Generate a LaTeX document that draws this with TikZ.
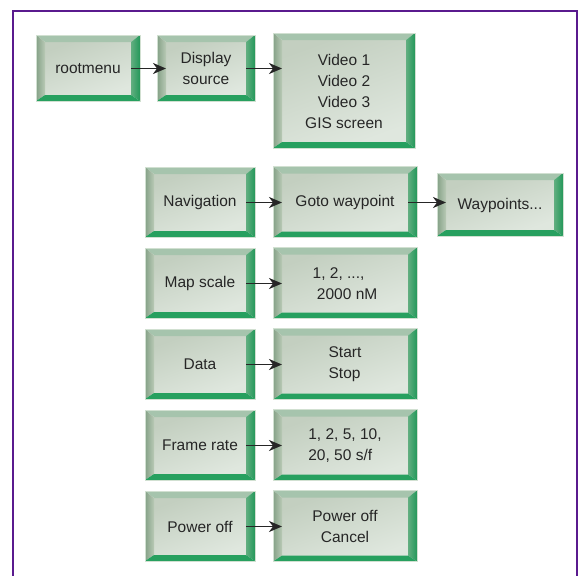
\documentclass[tikz,border=0pt]{standalone}
\usepackage{fontspec}
\setmainfont{Liberation Sans}
\usetikzlibrary{arrows.meta}

\definecolor{facetop}{HTML}{C3CFC0}
\definecolor{facebot}{HTML}{DFE7DE}
\definecolor{bevtopc}{HTML}{A6C4AD}
\definecolor{bevleftA}{HTML}{84A187}
\definecolor{bevleftB}{HTML}{B9C9B5}
\definecolor{bevrightA}{HTML}{62AE80}
\definecolor{bevrightB}{HTML}{23985A}
\definecolor{bevbotc}{HTML}{27A05F}
\definecolor{frameviolet}{HTML}{5A1A8E}

% bevelled frame round a face node
\newcommand\bevel[1]{%
  \fill[bevtopc] (#1.north west) -- ([shift={(-9,-7)}]#1.north west)
    -- ([shift={(9,-7)}]#1.north east) -- (#1.north east) -- cycle;
  \shade[left color=bevleftA,right color=bevleftB] (#1.north west)
    -- ([shift={(-9,-7)}]#1.north west) -- ([shift={(-9,6)}]#1.south west)
    -- (#1.south west) -- cycle;
  \shade[left color=bevrightA,right color=bevrightB] (#1.north east)
    -- ([shift={(9,-7)}]#1.north east) -- ([shift={(9,6)}]#1.south east)
    -- (#1.south east) -- cycle;
  \fill[bevbotc] (#1.south west) -- ([shift={(-9,6)}]#1.south west)
    -- ([shift={(9,6)}]#1.south east) -- (#1.south east) -- cycle;
  \draw[bevedge] ([shift={(-9,-7)}]#1.north west)
    rectangle ([shift={(9,6)}]#1.south east);
}

\begin{document}
\begin{tikzpicture}[
  x=1pt, y=-1pt,
  face/.style={
    top color=facetop, bottom color=facebot, shading angle=20,
    inner sep=0pt, outer sep=0pt, text=black!85,
    font=\fontsize{15.5}{21}\selectfont
  },
  bevedge/.style={draw=green!20!gray!30, line width=.6pt},
  link/.style={-{Stealth[length=13pt,width=11pt,inset=4pt]}, line width=1.6pt, black!85}
]
\useasboundingbox (0,0) rectangle (582,576);
% frame
\draw[frameviolet, line width=2.4pt] (13,580) -- (13,11) -- (577,11) -- (577,580);

% top row
\node[face, minimum width=86, minimum height=53] (root) at (88,68.5) {rootmenu};
\node[face, minimum width=80, minimum height=53, align=center] (disp) at (206,68.5)
  {Display\\source};
\node[face, minimum width=124, minimum height=102, align=center] (vid) at (344,91)
  {Video 1\\Video 2\\Video 3\\GIS screen};

% menu rows
\tikzset{lbox/.style={face, minimum width=92, minimum height=57},
         rbox/.style={face, minimum width=126, minimum height=58}}
\node[lbox] (nav)   at (200,202.5) {Navigation};
\node[rbox] (goto)  at (345,202.5) {Goto waypoint};
\node[face, minimum width=108, minimum height=50] (wayp) at (500,205) {Waypoints...};
\node[lbox] (map)   at (200,283.5) {Map scale};
\node[rbox, align=left] (scale) at (345,283.5) {1, 2, ...,\\ \ 2000 nM};
\node[lbox] (data)  at (200,364.5) {Data};
\node[rbox, align=left] (start) at (345,364.5) {Start\\Stop};
\node[lbox] (frame) at (200,445.5) {Frame rate};
\node[rbox, align=left] (rate)  at (345,445.5) {1, 2, 5, 10,\\20, 50 s/f};
\node[lbox] (power) at (200,526.5) {Power off};
\node[rbox, align=center] (cancel) at (345,526.5) {Power off\\Cancel};

\foreach \b in {root,disp,vid,nav,goto,wayp,map,scale,data,start,frame,rate,power,cancel}
  \bevel{\b};

% connectors
\draw[link] (root) -- (disp);
\draw[link] (disp.east) -- (disp.east -| vid.west);
\draw[link] (nav) -- (goto);
\draw[link] (goto.east) -- (goto.east -| wayp.west);
\foreach \a/\b in {map/scale,data/start,frame/rate,power/cancel}
  \draw[link] (\a) -- (\b);
\end{tikzpicture}
\end{document}
